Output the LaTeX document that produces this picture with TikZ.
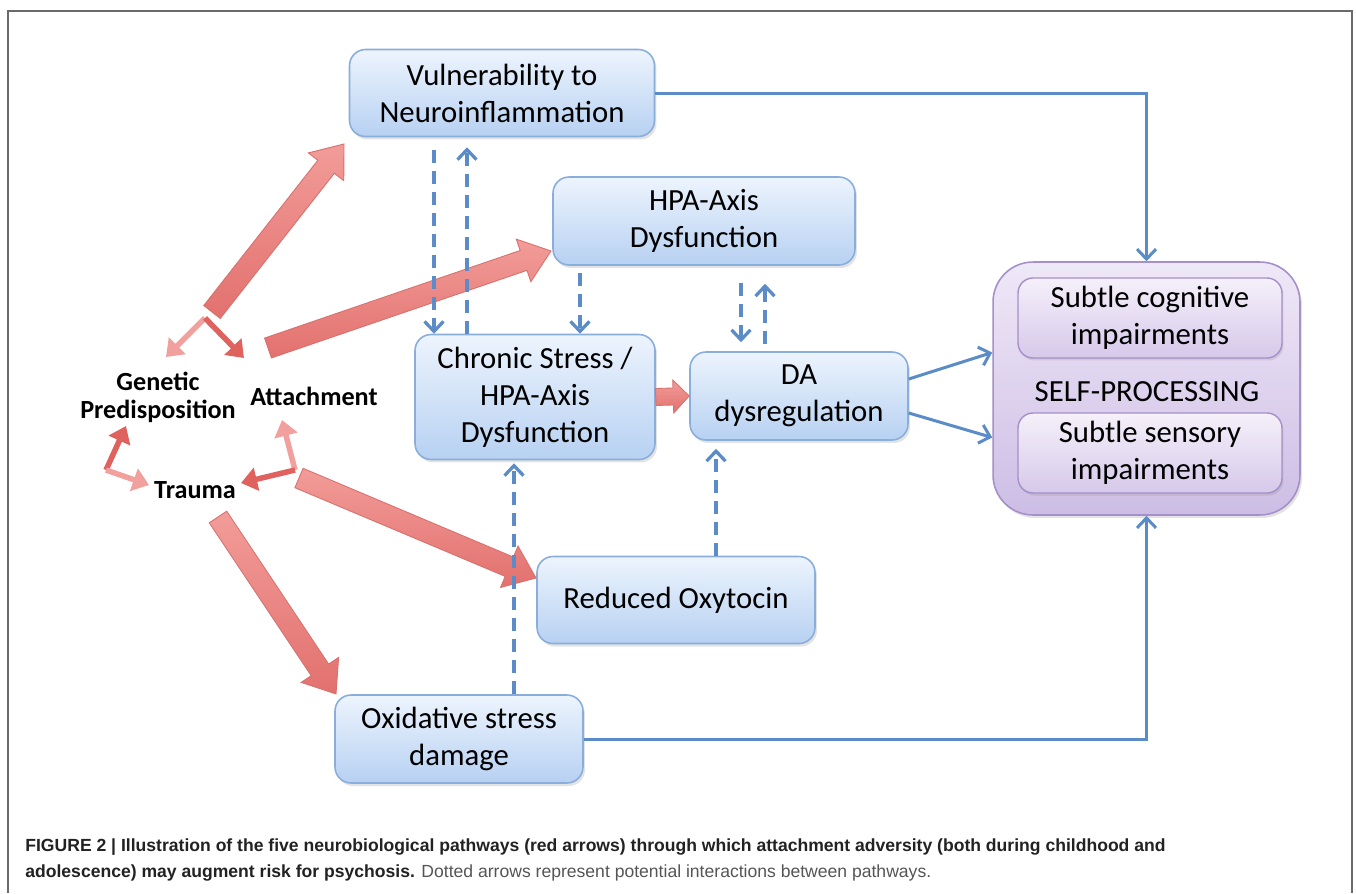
\documentclass[tikz,border=0pt]{standalone}
\usepackage{fontspec}
\setmainfont{Carlito}
\newfontfamily\capfont{Liberation Sans}
\usetikzlibrary{calc,arrows.meta,shadows}
\pgfdeclarelayer{background}
\pgfsetlayers{background,main}

\definecolor{boxtop}{HTML}{EDF4FD}
\definecolor{boxbot}{HTML}{B7D1F2}
\definecolor{boxedge}{HTML}{8AAEDC}
\definecolor{purtop}{HTML}{EFE8F7}
\definecolor{purbot}{HTML}{CDBDE5}
\definecolor{puredge}{HTML}{A590C9}
\definecolor{inntop}{HTML}{F5F0FA}
\definecolor{innbot}{HTML}{D6C8EA}
\definecolor{arrblue}{HTML}{5B8CC8}
\definecolor{redlight}{HTML}{F29C99}
\definecolor{reddark}{HTML}{E2716E}
\definecolor{rededge}{HTML}{D8706D}
\definecolor{smallred}{HTML}{E0625F}
\definecolor{smallpink}{HTML}{F2A09D}
\definecolor{framegray}{HTML}{6A6A6A}
\definecolor{capbold}{HTML}{222222}
\definecolor{capreg}{HTML}{555555}

% block arrow: from, to, shaft half width, head half width, head length
\newcommand\redblock[5]{%
  \coordinate (rb-h) at ($(#2)!#5!(#1)$);
  \path[redblk] ($(#1)!#3!90:(#2)$) -- ($(rb-h)!#3!-90:(#1)$) -- ($(rb-h)!#4!-90:(#1)$)
    -- (#2) -- ($(rb-h)!#4!90:(#1)$) -- ($(rb-h)!#3!90:(#1)$) -- ($(#1)!#3!-90:(#2)$) -- cycle;
}

\begin{document}
\begin{tikzpicture}[x=0.02cm,y=-0.02cm,
  bluebox/.style={draw=boxedge, line width=0.9pt, rounded corners=0.32cm,
    top color=boxtop, bottom color=boxbot, align=center, inner sep=0pt,
    font=\fontsize{17.5}{21}\selectfont,
    drop shadow={opacity=0.22, shadow xshift=0.04cm, shadow yshift=-0.06cm}},
  selfbox/.style={draw=puredge, line width=0.9pt, rounded corners=0.8cm,
    top color=purtop, bottom color=purbot, inner sep=0pt,
    drop shadow={opacity=0.22, shadow xshift=0.04cm, shadow yshift=-0.06cm}},
  innerbox/.style={draw=puredge, line width=0.8pt, rounded corners=0.3cm,
    top color=inntop, bottom color=innbot, align=center, inner sep=0pt,
    minimum width=5.28cm, minimum height=1.6cm,
    font=\fontsize{17.5}{21}\selectfont,
    drop shadow={opacity=0.2, shadow xshift=0.03cm, shadow yshift=-0.05cm}},
  boxtext/.style={inner sep=0pt, font=\fontsize{17.5}{21}\selectfont},
  lbl/.style={inner sep=0pt, align=center, font=\bfseries\fontsize{14.9}{16}\selectfont},
  redblk/.style={top color=redlight, bottom color=reddark, draw=rededge, line width=0.5pt},
  redthin/.style={line width=0.11cm, -{Triangle[length=0.32cm,width=0.46cm]}},
  bdash/.style={draw=arrblue, line width=0.065cm, dash pattern=on 0.26cm off 0.16cm,
    -{Straight Barb[length=0.2cm,width=0.38cm]}},
  bsolid/.style={draw=arrblue, line width=0.06cm,
    -{Straight Barb[length=0.2cm,width=0.38cm]}},
  framelines/.style={draw=framegray, line width=1.4pt}
]
\useasboundingbox (0,0) rectangle (1356,893);
\fill[white] (0,0) rectangle (1356,893);
\draw[framelines] (8,893) -- (8,11) -- (1352,11) -- (1352,893);

% pathway boxes
\node[bluebox, minimum width=6.1cm, minimum height=1.74cm] (vuln) at (502,93) {Vulnerability to\\Neuroinflammation};
\node[bluebox, minimum width=6.04cm, minimum height=1.76cm] (hpa) at (704,221) {HPA-Axis\\Dysfunction};
\node[bluebox, minimum width=4.8cm, minimum height=2.5cm] (chronic) at (535,397) {Chronic Stress /\\HPA-Axis\\Dysfunction};
\node[bluebox, minimum width=4.36cm, minimum height=1.76cm] (da) at (799,396) {DA\\dysregulation};
\node[bluebox, minimum width=5.56cm, minimum height=1.74cm] (oxy) at (676,600) {Reduced Oxytocin};
\node[bluebox, minimum width=4.96cm, minimum height=1.76cm] (oxid) at (459,739) {Oxidative stress\\damage};

% self-processing group
\node[selfbox, minimum width=6.14cm, minimum height=5.06cm] (self) at (1146.5,388.5) {};
\node[innerbox] (cog) at (1150,318) {Subtle cognitive\\impairments};
\node[innerbox] (sens) at (1150,453) {Subtle sensory\\impairments};
\node[boxtext] (selflbl) at (1147,392) {SELF-PROCESSING};

% adversity labels
\node[lbl] (genetic) at (158,397) {Genetic\\Predisposition};
\node[lbl] (attach) at (314,396) {Attachment};
\node[lbl] (trauma) at (195,490) {Trauma};

% small red arrows between the three adversity labels
\coordinate (j1) at (205,318);
\coordinate (j1l) at (166,357);
\coordinate (j1r) at (244,358);
\coordinate (j2) at (106,470);
\coordinate (j2u) at (126,426);
\coordinate (j2r) at (149,485);
\coordinate (j3) at (295,470);
\coordinate (j3u) at (282,420);
\coordinate (j3l) at (241,483);
\draw[redthin, draw=smallpink, fill=smallpink] (j1) -- (j1l);
\draw[redthin, draw=smallred, fill=smallred] (j1) -- (j1r);
\draw[redthin, draw=smallred, fill=smallred] (j2) -- (j2u);
\draw[redthin, draw=smallpink, fill=smallpink] (j2) -- (j2r);
\draw[redthin, draw=smallpink, fill=smallpink] (j3) -- (j3u);
\draw[redthin, draw=smallred, fill=smallred] (j3) -- (j3l);

% red pathway arrows
\coordinate (ra1) at (212,312);
\coordinate (rb1) at (344,144);
\coordinate (ra2) at (268,348);
\coordinate (rb2) at (551,251);
\coordinate (ra3) at (386,396);
\coordinate (rb3) at (445,396);
\coordinate (ra5) at (299,478);
\coordinate (rb5) at (536,578);
\coordinate (ra6) at (218,517);
\coordinate (rb6) at (336,694);
\redblock{ra1}{rb1}{0.21cm}{0.45cm}{0.58cm}
\redblock{ra2}{rb2}{0.21cm}{0.45cm}{0.58cm}
\begin{pgfonlayer}{background}
\redblock{ra3}{rb3}{0.17cm}{0.32cm}{0.4cm}
\end{pgfonlayer}
\redblock{chronic.east}{da.west}{0.17cm}{0.33cm}{0.32cm}
\redblock{ra5}{rb5}{0.21cm}{0.45cm}{0.58cm}
\redblock{ra6}{rb6}{0.21cm}{0.45cm}{0.58cm}

% dashed interactions
\coordinate (g434) at (434,0);
\coordinate (g467) at (467,0);
\coordinate (g580) at (580,0);
\coordinate (g741) at (741,0);
\coordinate (g765) at (765,0);
\coordinate (g716) at (716,0);
\coordinate (g514) at (514,0);
\draw[bdash, shorten <=0.26cm] (vuln.south -| g434) -- (chronic.north -| g434);
\draw[bdash, shorten >=0.2cm] (chronic.north -| g467) -- (vuln.south -| g467);
\draw[bdash, shorten <=0.14cm] (hpa.south -| g580) -- (chronic.north -| g580);
\draw[bdash, shorten <=0.34cm, shorten >=0.18cm] (hpa.south -| g741) -- (da.north -| g741);
\draw[bdash, shorten <=0.14cm, shorten >=0.36cm] (da.north -| g765) -- (hpa.south -| g765);
\draw[bdash, shorten >=0.16cm] (oxy.north -| g716) -- (da.south -| g716);
\draw[bdash, shorten >=0.06cm] (oxid.north -| g514) -- (chronic.south -| g514);

% solid connections to self-processing
\draw[bsolid] (vuln.east) -| (self.north);
\draw[bsolid] (oxid.east) -| (self.south);
\draw[bsolid] ($(da.east)+(0,-17)$) -- ($(self.west)+(0,-36)$);
\draw[bsolid] ($(da.east)+(0,17)$) -- ($(self.west)+(0,49)$);

% caption
\node[anchor=north west, inner sep=0pt, align=left,
  font=\capfont\fontsize{10}{14.8}\selectfont] (cap) at (25,838)
  {\textcolor{capbold}{\textbf{FIGURE 2 | Illustration of the five neurobiological pathways (red arrows) through which attachment adversity (both during childhood and}}\\
   \textcolor{capbold}{\textbf{adolescence) may augment risk for psychosis.}} \textcolor{capreg}{Dotted arrows represent potential interactions between pathways.}};
\end{tikzpicture}
\end{document}
